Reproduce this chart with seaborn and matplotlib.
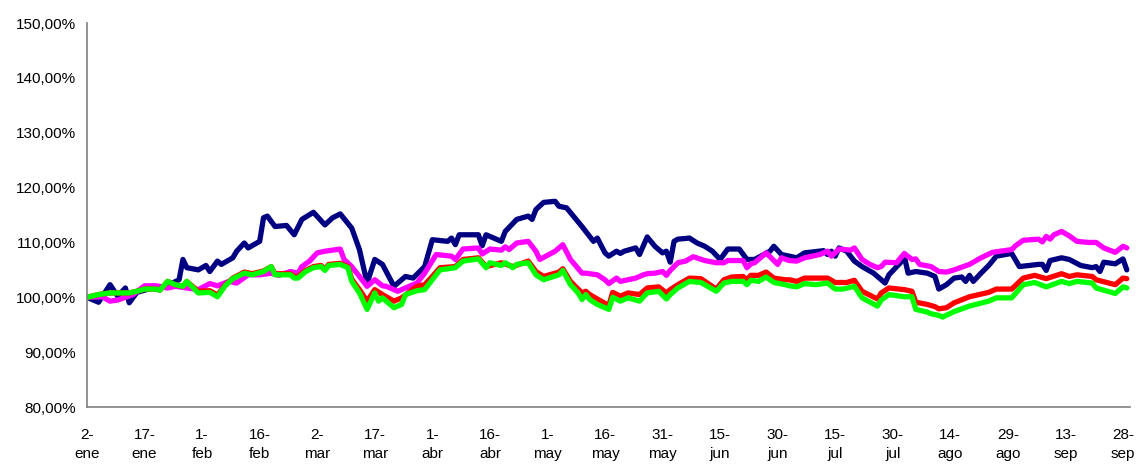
import numpy as np
import pandas as pd
import matplotlib
matplotlib.use("Agg")
import matplotlib.pyplot as plt
import seaborn as sns

# ---- data (day offsets from 2-ene, value in %) ----
start_date = "2008-01-02"

navy_days = [0, 3, 6, 8, 10, 11, 13, 17, 20, 24, 25, 26, 29, 31, 32, 34, 35, 38, 39, 41, 42, 45, 46, 47, 49, 52, 54, 56, 59, 62, 64, 66, 69, 71, 73, 75, 77, 80, 83, 85, 88, 90, 94, 95, 96, 97, 102, 103, 104, 108, 109, 112, 115, 116, 117, 119, 122, 123, 125, 129, 132, 133, 135, 136, 138, 139, 140, 143, 144, 146, 148, 150, 151, 152, 153, 154, 157, 159, 161, 163, 165, 167, 170, 172, 174, 178, 179, 181, 185, 187, 192, 193, 194, 195, 196, 198, 200, 202, 205, 206, 208, 209, 212, 213, 214, 216, 219, 221, 222, 224, 226, 228, 229, 230, 231, 233, 235, 237, 241, 243, 248, 249, 250, 251, 254, 256, 259, 262, 263, 264, 265, 268, 270, 271]
navy_vals = [100.0, 99.1, 102.3, 100.2, 101.7, 99.0, 100.9, 101.7, 101.8, 103.2, 106.9, 105.4, 105.0, 105.8, 104.7, 106.6, 106.0, 107.2, 108.4, 109.9, 109.0, 110.2, 114.5, 114.8, 112.9, 113.1, 111.4, 114.2, 115.5, 113.2, 114.5, 115.2, 112.6, 108.7, 102.6, 106.9, 106.0, 102.0, 103.8, 103.5, 105.6, 110.5, 110.2, 110.8, 109.6, 111.4, 111.4, 109.4, 111.4, 110.2, 112.0, 114.2, 114.8, 114.2, 116.0, 117.3, 117.5, 116.6, 116.3, 112.9, 110.2, 110.8, 108.1, 107.5, 108.4, 108.0, 108.4, 109.0, 107.8, 111.0, 109.3, 108.1, 108.4, 106.4, 110.2, 110.6, 110.8, 109.9, 109.3, 108.4, 106.9, 108.8, 108.8, 106.9, 106.9, 108.4, 109.3, 107.8, 107.2, 108.1, 108.5, 107.8, 108.4, 107.5, 109.0, 108.4, 106.6, 105.6, 104.4, 103.8, 102.6, 104.1, 106.3, 107.5, 104.4, 104.7, 104.4, 103.8, 101.5, 102.3, 103.5, 103.7, 102.9, 104.0, 102.9, 104.4, 105.8, 107.5, 108.0, 105.6, 106.0, 106.0, 104.9, 106.7, 107.2, 106.9, 105.8, 105.4, 105.6, 104.7, 106.4, 106.1, 107.0, 105.0]

magenta_days = [0, 4, 6, 8, 12, 15, 18, 21, 23, 26, 29, 32, 34, 37, 39, 42, 45, 48, 50, 53, 55, 56, 58, 60, 62, 66, 67, 69, 71, 73, 75, 77, 78, 81, 83, 86, 88, 91, 95, 96, 98, 102, 103, 105, 108, 109, 110, 112, 115, 117, 118, 122, 124, 126, 129, 130, 133, 135, 136, 138, 139, 141, 143, 145, 146, 148, 150, 151, 152, 154, 156, 158, 161, 164, 166, 167, 171, 172, 173, 174, 177, 180, 181, 183, 185, 187, 191, 193, 194, 196, 199, 200, 202, 204, 206, 207, 208, 211, 213, 215, 216, 217, 220, 222, 224, 226, 230, 233, 236, 241, 242, 244, 248, 249, 250, 251, 252, 254, 256, 258, 261, 263, 265, 268, 270, 271]
magenta_vals = [100.0, 100.1, 99.3, 99.5, 100.5, 102.1, 102.1, 101.7, 102.0, 101.7, 101.4, 102.5, 102.1, 102.9, 102.6, 104.1, 104.1, 104.4, 104.0, 104.7, 104.4, 105.6, 106.6, 108.1, 108.4, 108.8, 106.9, 105.6, 103.8, 102.0, 103.2, 102.1, 102.0, 101.1, 101.7, 102.6, 104.4, 107.8, 107.5, 106.9, 108.8, 109.0, 107.9, 108.8, 108.6, 109.2, 108.7, 109.9, 110.2, 108.4, 106.9, 108.4, 109.6, 106.9, 104.4, 104.4, 104.1, 103.2, 102.5, 103.5, 102.9, 103.2, 103.5, 104.1, 104.3, 104.4, 104.7, 104.0, 104.9, 106.3, 106.6, 107.4, 106.7, 106.3, 106.3, 106.7, 106.7, 105.4, 106.1, 106.3, 108.1, 106.0, 107.2, 106.7, 106.6, 107.2, 107.8, 108.4, 107.5, 108.8, 108.6, 109.0, 106.9, 106.0, 105.4, 105.6, 106.4, 106.3, 108.0, 106.9, 107.0, 106.0, 105.6, 104.7, 104.6, 105.0, 106.0, 107.2, 108.2, 108.7, 109.4, 110.4, 110.6, 110.1, 111.1, 110.6, 111.4, 112.0, 111.2, 110.2, 110.0, 110.0, 109.0, 108.2, 109.3, 109.0]

red_days = [0, 3, 6, 11, 13, 15, 18, 19, 21, 23, 25, 26, 29, 32, 34, 36, 38, 41, 43, 46, 48, 49, 53, 54, 55, 57, 59, 61, 62, 63, 66, 68, 69, 71, 73, 75, 77, 80, 82, 86, 88, 90, 92, 96, 98, 102, 104, 108, 111, 115, 117, 119, 123, 124, 126, 129, 130, 131, 136, 137, 139, 141, 144, 146, 149, 151, 152, 154, 157, 160, 164, 166, 168, 171, 172, 173, 175, 177, 179, 182, 183, 185, 187, 193, 195, 198, 200, 202, 206, 207, 209, 213, 215, 216, 219, 221, 222, 224, 226, 230, 235, 237, 241, 244, 247, 250, 254, 256, 258, 262, 263, 268, 270, 271]
red_vals = [100.0, 100.5, 100.8, 100.8, 101.1, 101.5, 101.5, 101.3, 102.9, 102.3, 102.0, 102.9, 101.1, 101.2, 100.4, 102.2, 103.5, 104.6, 104.3, 104.8, 105.6, 104.3, 104.3, 103.8, 103.8, 104.9, 105.6, 105.8, 105.1, 106.0, 106.2, 105.6, 103.3, 101.4, 99.3, 101.4, 100.5, 99.3, 99.9, 102.0, 102.3, 103.8, 105.4, 105.6, 106.9, 107.2, 105.6, 106.3, 105.6, 106.6, 104.7, 103.8, 104.6, 105.2, 102.9, 100.8, 101.1, 100.5, 98.5, 100.9, 100.2, 100.8, 100.5, 101.7, 101.9, 100.8, 101.4, 102.3, 103.5, 103.4, 101.5, 103.2, 103.7, 103.8, 103.2, 104.0, 104.0, 104.6, 103.5, 103.2, 103.2, 102.9, 103.5, 103.5, 102.7, 102.7, 103.1, 101.1, 99.7, 100.8, 101.7, 101.4, 101.1, 99.1, 98.7, 98.3, 97.9, 98.1, 99.0, 100.1, 100.9, 101.5, 101.5, 103.5, 104.0, 103.4, 104.3, 103.8, 104.1, 103.8, 103.2, 102.3, 103.5, 103.4]

green_days = [0, 3, 6, 11, 13, 15, 18, 19, 21, 23, 25, 26, 29, 32, 34, 36, 38, 41, 43, 46, 48, 49, 53, 54, 55, 57, 59, 61, 62, 63, 66, 68, 69, 71, 73, 75, 76, 77, 80, 82, 83, 86, 88, 90, 92, 96, 98, 102, 104, 105, 108, 109, 111, 112, 115, 117, 119, 123, 124, 126, 128, 129, 130, 131, 133, 136, 137, 139, 141, 144, 146, 149, 151, 152, 154, 157, 160, 164, 166, 168, 171, 172, 173, 175, 177, 179, 182, 183, 185, 187, 190, 193, 195, 197, 200, 202, 206, 207, 209, 213, 215, 216, 219, 220, 222, 223, 226, 230, 235, 237, 241, 244, 247, 250, 254, 256, 258, 262, 263, 268, 270, 271]
green_vals = [100.0, 100.5, 100.8, 100.8, 101.1, 101.5, 101.5, 101.3, 102.9, 102.3, 102.0, 102.9, 100.8, 100.9, 100.1, 102.1, 103.4, 104.4, 104.1, 104.7, 105.6, 104.1, 104.1, 103.5, 103.5, 104.7, 105.4, 105.6, 104.9, 105.8, 106.0, 105.4, 102.9, 100.8, 97.8, 100.8, 99.3, 99.9, 98.1, 98.7, 100.5, 101.2, 101.4, 103.2, 105.0, 105.4, 106.6, 107.0, 105.4, 106.3, 105.8, 106.3, 105.4, 106.0, 106.3, 104.1, 103.2, 104.1, 104.9, 102.3, 100.8, 99.6, 100.5, 99.6, 98.7, 97.8, 100.0, 99.3, 99.9, 99.3, 100.8, 101.1, 99.7, 100.5, 101.7, 102.9, 102.7, 101.1, 102.6, 102.9, 102.9, 102.3, 103.1, 102.9, 103.7, 102.7, 102.3, 102.1, 101.9, 102.5, 102.3, 102.6, 101.5, 101.5, 102.0, 99.9, 98.4, 99.5, 100.5, 100.1, 100.1, 97.8, 97.3, 97.0, 96.7, 96.4, 97.4, 98.4, 99.3, 99.9, 99.9, 102.3, 102.7, 101.9, 102.9, 102.5, 102.9, 102.6, 101.7, 100.7, 101.9, 101.7]

series_names = ["navy", "magenta", "red", "green"]
series_colors = ["#000080", "#FF00FF", "#FF0000", "#00FF00"]

tick_days = [0, 15, 30, 45, 60, 75, 90, 105, 120, 135, 150, 165, 180, 195, 210, 225, 240, 255, 270]
tick_labels = ["2-\nene", "17-\nene", "1-\nfeb", "16-\nfeb", "2-\nmar", "17-\nmar", "1-\nabr", "16-\nabr",
               "1-\nmay", "16-\nmay", "31-\nmay", "15-\njun", "30-\njun", "15-\njul", "30-\njul", "14-\nago",
               "29-\nago", "13-\nsep", "28-\nsep"]
y_ticks = [80, 90, 100, 110, 120, 130, 140, 150]

# ---- build table ----
t0 = pd.Timestamp(start_date)
frames = []
for name, d, v in [("navy", navy_days, navy_vals), ("magenta", magenta_days, magenta_vals),
                   ("red", red_days, red_vals), ("green", green_days, green_vals)]:
    frames.append(pd.DataFrame({"date": t0 + pd.to_timedelta(d, unit="D"), "value": v, "series": name}))
df = pd.concat(frames, ignore_index=True)

sns.set_style("white")
plt.rcParams["font.family"] = ["Liberation Sans", "DejaVu Sans"]

fig = plt.figure(figsize=(11.36, 4.65), dpi=100)
ax = fig.add_axes([0.0766, 0.1247, 0.918, 0.8258])

sns.lineplot(data=df, x="date", y="value", hue="series", hue_order=series_names,
             palette=series_colors, linewidth=3.8, estimator=None, sort=True,
             legend=False, ax=ax)

ax.set_ylim(80, 150)
ax.set_xlim(t0, t0 + pd.Timedelta(days=271.8))
ax.set_yticks(y_ticks)
ax.set_yticklabels([f"{v:.2f}%".replace(".", ",") for v in y_ticks])
ax.set_xticks([t0 + pd.Timedelta(days=d) for d in tick_days])
ax.set_xticklabels(tick_labels, linespacing=1.45)
ax.set_xlabel("")
ax.set_ylabel("")

for s in ["top", "right"]:
    ax.spines[s].set_visible(False)
for s in ["left", "bottom"]:
    ax.spines[s].set_color("#808080")
    ax.spines[s].set_linewidth(1.2)
ax.tick_params(axis="both", direction="out", length=4, width=1.0, color="#808080",
               labelsize=11, labelcolor="black")
ax.tick_params(axis="x", pad=11)
ax.tick_params(axis="y", pad=4)
ax.grid(False)

fig.savefig("out.png", dpi=100)
